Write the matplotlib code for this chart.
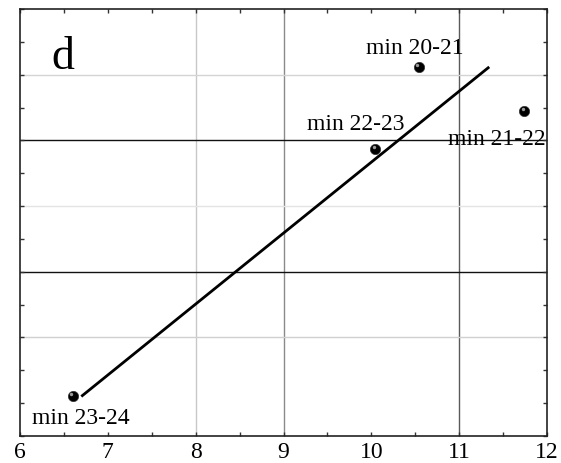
import matplotlib
matplotlib.use("Agg")
import matplotlib.pyplot as plt
from matplotlib.ticker import MultipleLocator, NullFormatter

# Data (y axis has no labels; arbitrary units)
labels = ["min 23-24", "min 22-23", "min 20-21", "min 21-22"]
x_vals = [6.60, 10.04, 10.54, 11.74]
y_vals = [1.22, 8.73, 11.22, 9.90]
fit_x = [6.71, 11.33]
fit_y = [1.23, 11.21]
x_ticks = [6, 7, 8, 9, 10, 11, 12]
panel_letter = "d"

# text offsets (in points) for labels
label_offsets = [(6, -16), (-14, 18), (-3, 14), (-20, -21)]

plt.rcParams['font.family'] = ['Liberation Serif', 'DejaVu Serif']

fig = plt.figure(figsize=(5.61, 4.63), dpi=100)
ax = fig.add_axes([20/561, 1-436/463, 527/561, 427/463])
ax.set_xlim(6, 12)
ax.set_ylim(0, 13)

# grid-like reference lines
for xv, c in [(8, '#c8c8c8'), (9, '#8a8a8a'), (11, '#5a5a5a')]:
    ax.axvline(xv, color=c, lw=1.0, zorder=0)
for yv, c in [(11, '#d4d4d4'), (7, '#e4e4e4'), (3, '#d0d0d0'), (9, '#111111'), (5, '#111111')]:
    ax.axhline(yv, color=c, lw=1.0, zorder=0)

ax.plot(fit_x, fit_y, color='black', lw=2.0, zorder=2)
ax.scatter(x_vals, y_vals, s=55, color='black', zorder=3, edgecolors='#333333', linewidths=0.5)
# little highlight to mimic spheres
ax.scatter([x - 0.015 for x in x_vals], [y + 0.06 for y in y_vals], s=6, color='#9a9a9a', zorder=4, linewidths=0)

for lab, xv, yv, off in zip(labels, x_vals, y_vals, label_offsets):
    ax.annotate(lab, (xv, yv), xytext=off, textcoords='offset points',
                ha='center', va='center', fontsize=17, zorder=5)

ax.text(0.06, 0.885, panel_letter, transform=ax.transAxes, fontsize=33,
        ha='left', va='center')

ax.set_xticks(x_ticks)
ax.xaxis.set_minor_locator(MultipleLocator(0.5))
ax.yaxis.set_major_locator(MultipleLocator(1))
ax.yaxis.set_major_formatter(NullFormatter())
ax.tick_params(axis='both', which='both', direction='in', top=True, right=True,
               length=3, width=1.0, color='#333333')
ax.tick_params(axis='x', which='major', labelsize=17, pad=4)
for s in ax.spines.values():
    s.set_linewidth(1.2)
    s.set_color('#222222')

fig.savefig("out.png", dpi=100)
